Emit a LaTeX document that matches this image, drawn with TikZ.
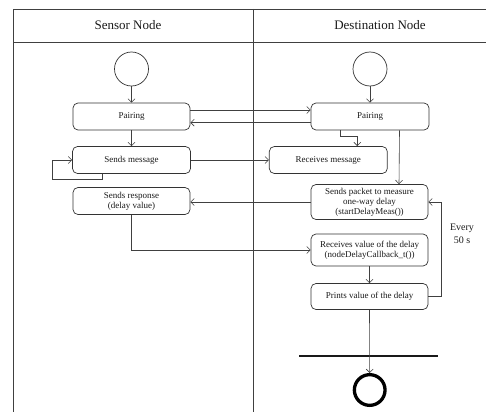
\documentclass[tikz,border=0pt]{standalone}
\usepackage{fontspec}
\setmainfont{Liberation Serif}
\usetikzlibrary{arrows.meta,calc}
\begin{document}
\begin{tikzpicture}[x=1pt,y=-1pt,
  frame/.style={draw=black!75,line width=0.7pt},
  act/.style={draw=black!80,line width=0.7pt,rounded corners=5pt,align=center,
    inner sep=0pt,font=\fontsize{9}{10}\selectfont,text=black!90},
  startc/.style={circle,draw=black!80,line width=0.7pt,minimum size=34pt,inner sep=0pt},
  arr/.style={draw=black!75,line width=0.6pt,-{Straight Barb[length=3.5pt,width=7pt]}},
  head/.style={font=\fontsize{13}{15}\selectfont,text=black!90}]
\useasboundingbox (0,0) rectangle (486,412);
% swimlane frame
\draw[frame] (486,9) -- (13,9) -- (13,412);
\draw[frame] (13,42.7) -- (486,42.7);
\draw[frame] (253,9) -- (253,412);
\node[head] (hs) at (128,25) {Sensor Node};
\node[head] (hd) at (380,25) {Destination Node};
% nodes
\node[startc] (s1) at (131.5,69) {};
\node[startc] (s2) at (370,69) {};
\node[act,minimum width=117pt,minimum height=27pt] (pair1) at (131.5,116.5) {Pairing};
\node[act,minimum width=118pt,minimum height=27pt] (pair2) at (370,116.5) {Pairing};
\node[act,minimum width=118pt,minimum height=27pt] (msg1) at (131.5,160) {Sends message};
\node[act,minimum width=118pt,minimum height=27pt] (msg2) at (328.3,160) {Receives message};
\node[act,minimum width=117pt,minimum height=27pt] (resp) at (131.5,201) {Sends response\\(delay value)};
\node[act,minimum width=117pt,minimum height=35pt] (pkt) at (369.5,202) {Sends packet to measure\\one-way delay\\(startDelayMeas())};
\node[act,minimum width=117pt,minimum height=32pt] (recv) at (369.5,250) {Receives value of the delay\\(nodeDelayCallback\_t())};
\node[act,minimum width=117pt,minimum height=26pt] (prt) at (369.5,296.5) {Prints value of the delay};
\coordinate (barL) at (299,356);
\coordinate (barR) at (438,356);
\node[circle,draw=black,line width=3.3pt,minimum size=30.7pt,inner sep=0pt] (endc) at (369.7,390) {};
\node[font=\fontsize{10}{12.5}\selectfont,align=center,text=black!90] (every) at (462,234) {Every\\50 s};
\coordinate (loopL) at (52.7,179);
\coordinate (loopR) at (441.7,296.5);
% connectors
\draw[arr] (s1) -- (pair1);
\draw[arr] (s2) -- (pair2);
\draw[arr] ([yshift=6.5pt]pair1.east) -- ([yshift=6.5pt]pair2.west);
\draw[arr] ([yshift=-6.2pt]pair2.west) -- ([yshift=-6.2pt]pair1.east);
\draw[arr] (pair1) -- (msg1);
\draw[arr] ([xshift=-29pt]msg1.south) |- (loopL) |- (msg1.west);
\draw[arr] (msg1) -- (msg2);
\draw[arr] ([xshift=-29.3pt]pair2.south) -- ++(0,5.5) -| ([xshift=29pt]msg2.north);
\draw[arr] ([xshift=29.5pt]pair2.south) -- ([xshift=29.5pt]pkt.north);
\draw[arr] (pkt.west) -- (resp.east |- pkt.west);
\draw[arr] (resp.south) |- (recv.west);
\draw[arr] (recv) -- (prt);
\draw[arr] (prt.east) -- (loopR) |- (pkt.east);
\draw[line width=2pt,black!90] (barL) -- (barR);
\draw[arr] (prt.south) -- (endc.north);
\end{tikzpicture}
\end{document}
